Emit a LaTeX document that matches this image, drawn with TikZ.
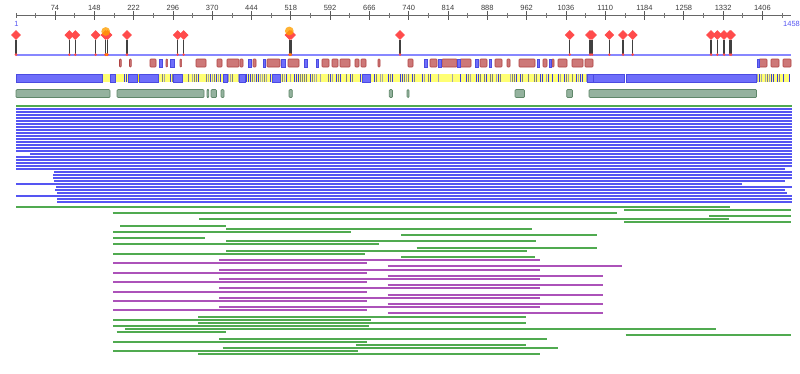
\documentclass[tikz,border=0pt]{standalone}
\usepackage{fontspec}
\setmainfont{Liberation Sans}
\usepackage{tikz}
\usetikzlibrary{shapes.geometric}

\definecolor{seqblue}{RGB}{135,135,255}
\definecolor{barblue}{RGB}{110,110,250}
\definecolor{bardraw}{RGB}{75,75,225}
\definecolor{stripegray}{RGB}{125,125,135}
\definecolor{stripeblue}{RGB}{60,60,215}
\definecolor{mixyellow}{RGB}{255,255,115}
\definecolor{hitblue}{RGB}{85,85,242}
\definecolor{hitgreen}{RGB}{80,170,80}
\definecolor{hitpurple}{RGB}{172,82,185}
\definecolor{regfill}{RGB}{205,120,120}
\definecolor{regdraw}{RGB}{175,65,65}
\definecolor{domfill}{RGB}{148,178,158}
\definecolor{domdraw}{RGB}{95,135,105}
\definecolor{snpred}{RGB}{255,75,75}
\definecolor{lblgray}{RGB}{60,60,60}

\tikzset{
  ticklbl/.style={font=\fontsize{7.5}{8}\selectfont, text=lblgray, inner sep=0pt},
  endlbl/.style={font=\fontsize{7.5}{8}\selectfont, text=hitblue, inner sep=0pt},
  lolli/.style={diamond, fill=snpred, draw=red!70!white, line width=0.6pt, inner sep=0pt, minimum size=9pt},
  stem/.style={line width=1.2pt, black!75},
  regbox/.style={fill=regfill, draw=regdraw, line width=0.6pt, rounded corners=0.8pt},
  bluebox/.style={fill=barblue, draw=bardraw, line width=0.6pt},
  dombox/.style={fill=domfill, draw=domdraw, line width=0.7pt, rounded corners=1pt},
  hit/.style={line width=2pt}
}

\begin{document}
\begin{tikzpicture}[x=1pt, y=-1pt]
  \useasboundingbox (0,0) rectangle (800,373);

  % ruler
  \draw[black!60, line width=0.6pt] (16,15) -- (791,15);
  \draw[black!60, line width=0.6pt] (16,13) -- (16,17.5);
  \foreach \v in {37,111,...,1443}
    \draw[black!55, line width=0.6pt] ({16.2+0.5311*(\v-1)},13) -- ++(0,4.5);
  \foreach \v in {74,148,...,1406} {
    \draw[black!65, line width=0.7pt] ({16.2+0.5311*(\v-1)},11) -- ++(0,8.5);
    \node[ticklbl] (l\v) at ({16.2+0.5311*(\v-1)},7.5) {\v};
  }
  \node[endlbl] (first) at (16.5,23.5) {1};
  \node[endlbl, anchor=west] (last) at (783,23.5) {1458};

  % sequence line and variants
  \draw[seqblue, line width=1.3pt] (16,55) -- (791,55);
  \foreach \x [count=\i] in {16,69.3,75.3,95.7,105.5,107.5,127,177.7,183.7,289.5,291,400,
                              569.7,590,592,609.3,623,632.7,711,717.3,724,730,731} {
    \node[lolli] (d\i) at (\x,35) {};
    \coordinate (b\i) at (\x,54.6);
    \draw[stem] (d\i.south) -- (b\i);
    \fill[snpred] (b\i) circle (1.4);
  }
  \fill[orange!75!yellow, opacity=0.8] (105.7,31.5) circle (4.4);
  \fill[orange!75!yellow, opacity=0.8] (289.3,31) circle (4.4);
  \fill[orange] (106.5,54.6) circle (1.5);
  \fill[orange] (290.2,54.6) circle (1.5);

  % track 1
  \foreach \a/\b in {119.5/121.2,129.5/131.2,150/156,166/167.6,180/181.6,196/206,217/222,227/239,
                     240/243,253/256,267/280,288/299,322/329,332/338,340/350,355/359,361/366,
                     378/380,408/413,430/437,442/457,460/471,480/487,495/502,507/510,519/535,
                     543/547,552/554,558/567,572/583,585/593,759/767,771/779,783/791}
    \draw[regbox] (\a,59) rectangle (\b,67);
  \foreach \a/\b in {159.5/162.5,170.5/174,248/251,263/265.5,281/285,304/307,316/318,424/427,
                     438/441,457/460,475/478,489/491,537/539,549/551,757/759.5}
    \draw[bluebox] (\a,59) rectangle (\b,67);

  % track 2
  \fill[mixyellow] (102,74) rectangle (593,82);
  \fill[mixyellow] (756,74) rectangle (790,82);
  \pgfmathsetseed{1458}
  \foreach \x in {102,104,...,590,757,759,...,789} {
    \pgfmathrandominteger{\r}{0}{4}
    \ifcase\r
      \fill[stripegray] (\x,74) rectangle ++(1.2,8);
    \or
      \fill[stripeblue] (\x,74) rectangle ++(1.2,8);
    \or
      \fill[stripegray!70] (\x,74) rectangle ++(0.8,8);
    \or
    \or
    \fi
  }
  \foreach \a/\b in {16/102,110/115,128/137.5,138.8/158,173/182,223/227,239/245,272/280,
                     362/370,587/593,593/624,626/756}
    \draw[bluebox] (\a,74) rectangle (\b,82);
  \fill[yellow!90!orange] (137.5,74) rectangle (138.8,82);

  % track 3
  \foreach \a/\b in {16/110,117/204,207/208.7,211/216.5,221/224,289/292.3,389.3/392.5,
                     407/409,515/524.5,566.7/572.5,589/756.5}
    \draw[dombox] (\a,89.5) rectangle (\b,97.5);

  % blue hits
  \draw[hitgreen, hit] (16,106) -- (792,106);
  \foreach \k/\a/\b in {0/16/792,1/16/792,2/16/792,3/16/792,4/16/792,5/16/792,6/16/792,
                        7/16/792,8/16/792,9/16/792,10/16/792,11/16/792,12/16/792,13/16/792,
                        14/16/792,15/30/792,16/16/792,17/16/792,18/16/792,19/16/792,
                        20/16/785,21/54/792,22/53/792,23/53/792,24/54/785,25/16/742,
                        26/56/792,27/55/785,28/57/787,29/16/792,30/57/792,31/57/792}
    \draw[hitblue, hit] (\a,{109+3*\k}) -- (\b,{109+3*\k});

  % green and purple hits
  \foreach \n/\a/\b in {-2/16/730,-1/624/791,0/112.7/617.3,1/709/791,2/199.3/729.3,3/624/791,
                        4/120/225.7,5/226/532.3,6/113.3/350.7,7/401.3/596.7,8/113.3/205,
                        9/226/536,10/113.3/379.3,11/416.7/596.7,12/226/527.3,13/113.3/365,
                        14/401.3/535,33/198.3/525.7,34/113.3/371,35/198.3/525.7,36/113.3/368.7,
                        37/125.3/715.7,38/116.7/226,39/625.7/791,40/219/546.7,41/113.3/366.7,
                        42/355.7/525.7,43/222.7/557.7,44/113.3/358.3,45/198.3/540}
    \draw[hitgreen, hit] (\a,{213+3.14*\n}) -- (\b,{213+3.14*\n});
  \foreach \k in {0,...,5} {
    \draw[hitpurple, hit] (219,{213+3.14*(15+3*\k)}) -- (540,{213+3.14*(15+3*\k)});
    \draw[hitpurple, hit] (113.3,{213+3.14*(16+3*\k)}) -- (366.7,{213+3.14*(16+3*\k)});
  }
  \draw[hitpurple, hit] (387.7,{213+3.14*17}) -- (621.7,{213+3.14*17});
  \foreach \k in {1,...,5}
    \draw[hitpurple, hit] (387.7,{213+3.14*(17+3*\k)}) -- (602.7,{213+3.14*(17+3*\k)});
\end{tikzpicture}
\end{document}
